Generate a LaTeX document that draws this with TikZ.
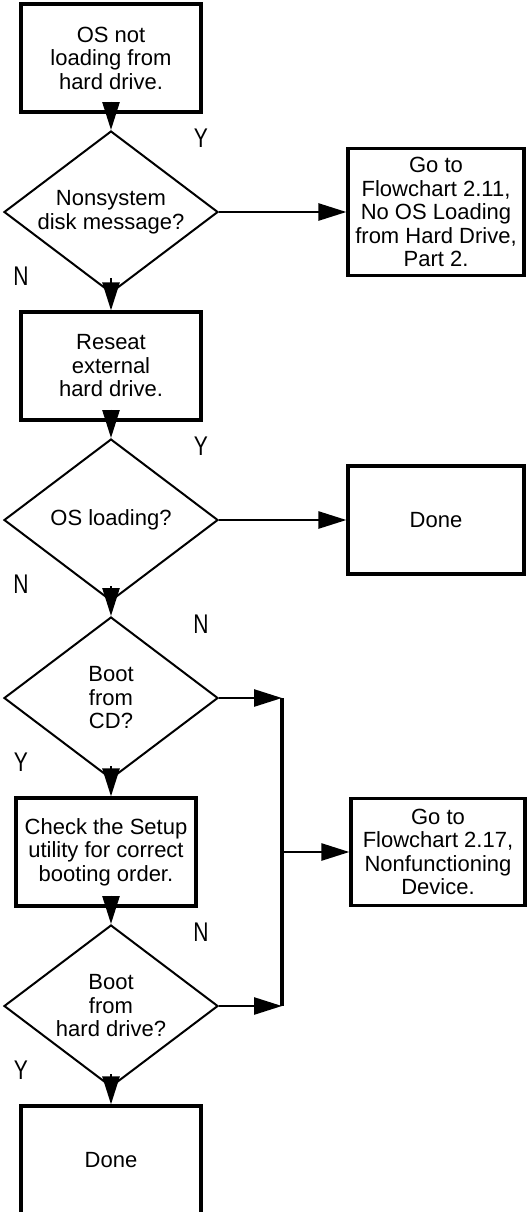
\documentclass[tikz,border=0pt]{standalone}
\usepackage{fontspec}
\setmainfont{Liberation Sans}
\newfontfamily\branchfont{Liberation Sans}[FakeStretch=0.78]
\usepackage{tikz}
\usetikzlibrary{shapes.geometric, arrows.meta, calc}
\tikzstyle{process} = [rectangle, minimum width=90pt, minimum height=54pt, text centered, align=center, draw=black, line width=1.6pt]
\tikzstyle{decision} = [diamond, aspect=1.32, minimum width=107pt, minimum height=81pt, inner sep=0pt, text centered, align=center, draw=black, line width=1pt]
\tikzstyle{arrow} = [line width=1.3pt, -{Triangle[length=14pt, width=8.5pt]}]
\tikzstyle{line} = [line width=1.6pt]
\tikzstyle{branch} = [font=\branchfont\fontsize{13.5}{15}\selectfont, inner sep=0pt]

\begin{document}
\begin{tikzpicture}[node distance=77pt, font=\fontsize{11}{11.75}\selectfont]
\useasboundingbox (-55.5pt,29pt) rectangle (207.5pt,-577pt);
\node (start) [process] {OS not\\loading from\\hard drive.};
\node (nonsys) [decision, below of = start] {Nonsystem\\disk message?};
\node (goto1) [process, node distance=162.5pt, right of = nonsys, minimum width=88pt, minimum height=63.5pt] {Go to\\Flowchart 2.11,\\No OS Loading\\from Hard Drive,\\Part 2.};
\node (reseat) [process, below of = nonsys] {Reseat\\external\\hard drive.};
\node (osload) [decision, below of = reseat] {OS loading?};
\node (done1) [process, node distance=162.5pt, right of = osload, minimum width=88pt] {Done};
\node (bootcd) [decision, node distance=89pt, below of = osload] {Boot\\from\\CD?};
\node (setup) [process, below of = bootcd, xshift=-2.5pt] {Check the Setup\\utility for correct\\booting order.};
\node (goto2) [process, node distance=166pt, right of = setup, minimum width=87pt, minimum height=53.5pt] {Go to\\Flowchart 2.17,\\Nonfunctioning\\Device.};
\node (boothd) [decision, below of = setup, xshift=2.5pt] {Boot\\from\\hard drive?};
\node (done) [process, below of = boothd] {Done};
\coordinate [node distance=85.5pt, right of = bootcd] (busa);
\coordinate [node distance=85.5pt, right of = boothd] (busb);

% Y/N labels
\node (y1) [branch] at ([xshift=45pt, yshift=-4pt]nonsys.north) {Y};
\node (n1) [branch] at ([xshift=-45pt, yshift=9pt]nonsys.south) {N};
\node (y2) [branch] at ([xshift=45pt, yshift=-4pt]osload.north) {Y};
\node (n2) [branch] at ([xshift=-45pt, yshift=9pt]osload.south) {N};
\node (n3) [branch] at ([xshift=45pt, yshift=-4pt]bootcd.north) {N};
\node (y3) [branch] at ([xshift=-45pt, yshift=9pt]bootcd.south) {Y};
\node (n4) [branch] at ([xshift=45pt, yshift=-4pt]boothd.north) {N};
\node (y4) [branch] at ([xshift=-45pt, yshift=9pt]boothd.south) {Y};

\draw [arrow] ([yshift=6pt]start.south) -- (nonsys);
\draw [arrow] (nonsys) -- (goto1);
\draw [arrow] ([yshift=8pt]nonsys.south) -- (reseat);
\draw [arrow] ([yshift=6pt]reseat.south) -- (osload);
\draw [arrow] (osload) -- (done1);
\draw [arrow] ([yshift=8pt]osload.south) -- (bootcd);
\draw [arrow] ([yshift=7pt]bootcd.south) -- (bootcd.south |- setup.north);
\draw [arrow] ($(boothd.north |- setup.south)+(0,6pt)$) -- (boothd);
\draw [arrow] ([yshift=7pt]boothd.south) -- (done);
\draw [arrow] (bootcd) -- (busa);
\draw [arrow] (boothd) -- (busb);
\draw [line] (busa) -- (busb);
\draw [arrow] (busa |- goto2) -- (goto2);
\end{tikzpicture}
\end{document}
